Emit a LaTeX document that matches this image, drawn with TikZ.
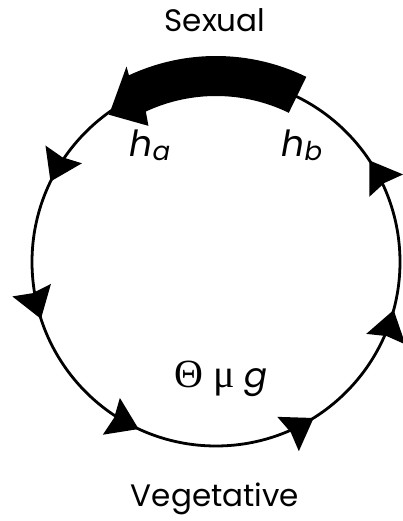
\documentclass[tikz,border=0pt]{standalone}
\usepackage{fontspec}
\setmainfont{Poppins}
\newfontfamily\greekfont{Liberation Serif}
\usetikzlibrary{arrows.meta,decorations.markings}
\tikzset{flowtip/.tip={Stealth[length=30pt,width=40pt,inset=3pt]}}

\begin{document}
\begin{tikzpicture}[x=1pt, y=1pt,
	cycleline/.style={line width=2.8pt},
	phase/.style={font=\fontsize{31}{36}\selectfont},
	rate/.style={font=\fontsize{36}{40}\selectfont\itshape}]
	\useasboundingbox (0,0) rectangle (403,521);
	\coordinate (O) at (216,259);
	
	\begin{scope}[shift={(O)}]
		% life cycle with flow arrows
		\draw[cycleline, postaction={decorate}, decoration={markings,
			mark=at position 0.093 with {\arrow{flowtip}},
			mark=at position 0.428 with {\arrow{flowtip}},
			mark=at position 0.550 with {\arrow{flowtip}},
			mark=at position 0.681 with {\arrow{flowtip}},
			mark=at position 0.839 with {\arrow{flowtip}},
			mark=at position 0.958 with {\arrow{flowtip}}}]
			(0:184) arc[start angle=0, end angle=360, radius=184];
		
		% sexual phase (thick arrow from h_b to h_a)
		\fill (64:206) arc[start angle=64, end angle=115, radius=206]
			-- (114.6:215) -- (126:182) -- (116.4:152) -- (115:166)
			arc[start angle=115, end angle=64, radius=166] -- cycle;
	\end{scope}
	
	% labels
	\node[phase] (sexual) at (215,501) {Sexual};
	\node[phase] (vegetative) at (215,22) {Vegetative};
	\node[rate] (ha) at (150,376) {h\raisebox{-4pt}{\fontsize{26}{28}\selectfont a}};
	\node[rate] (hb) at (302,376) {h\raisebox{-4pt}{\fontsize{26}{28}\selectfont b}};
	\node[font=\fontsize{34}{38}\selectfont] (params) at (221,142)
		{{\greekfont\fontsize{40}{44}\selectfont Θ μ} {\itshape g}};
\end{tikzpicture}
\end{document}
